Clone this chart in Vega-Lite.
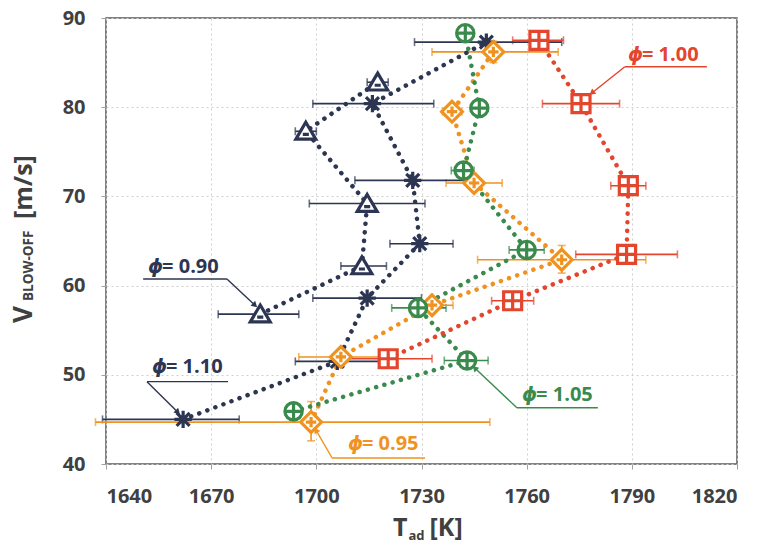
{
  "$schema": "https://vega.github.io/schema/vega-lite/v6.json",
  "width": 631,
  "height": 446,
  "autosize": {"type": "none"},
  "padding": {"left": 106, "top": 18, "right": 25, "bottom": 86},
  "background": "white",
  "datasets": {
    "pts": [
      {"phi": "0.90", "t": 1684, "v": 56.8, "lo": 1672, "hi": 1695},
      {"phi": "0.90", "t": 1713, "v": 62.2, "lo": 1707, "hi": 1720},
      {"phi": "0.90", "t": 1714.5, "v": 69.2, "lo": 1698, "hi": 1731},
      {"phi": "0.90", "t": 1697, "v": 77.3, "lo": 1694, "hi": 1700},
      {"phi": "0.90", "t": 1717.5, "v": 82.8, "lo": 1714.5, "hi": 1720.5},
      {"phi": "1.10", "t": 1662, "v": 45.0, "lo": 1639, "hi": 1678},
      {"phi": "1.10", "t": 1706, "v": 51.5, "lo": 1694, "hi": 1718},
      {"phi": "1.10", "t": 1714.5, "v": 58.6, "lo": 1699, "hi": 1730},
      {"phi": "1.10", "t": 1729.5, "v": 64.7, "lo": 1721, "hi": 1739},
      {"phi": "1.10", "t": 1727.5, "v": 71.8, "lo": 1711, "hi": 1745},
      {"phi": "1.10", "t": 1716, "v": 80.4, "lo": 1699, "hi": 1733.5},
      {"phi": "1.10", "t": 1748.5, "v": 87.3, "lo": 1728, "hi": 1770},
      {"phi": "0.95", "t": 1698.5, "v": 44.7, "lo": 1637, "hi": 1749.5, "vlo": 42.6, "vhi": 47.0},
      {"phi": "0.95", "t": 1707, "v": 52.0, "lo": 1695, "hi": 1718},
      {"phi": "0.95", "t": 1733, "v": 57.8, "lo": 1727, "hi": 1739},
      {"phi": "0.95", "t": 1770, "v": 62.9, "lo": 1746, "hi": 1794, "vlo": 61.4, "vhi": 64.5},
      {"phi": "0.95", "t": 1745, "v": 71.5, "lo": 1737, "hi": 1753},
      {"phi": "0.95", "t": 1738.7, "v": 79.5, "lo": 1736, "hi": 1741.5},
      {"phi": "0.95", "t": 1750.5, "v": 86.2, "lo": 1733, "hi": 1769, "vlo": 85.0, "vhi": 87.4},
      {"phi": "1.05", "t": 1693.5, "v": 45.9, "lo": 1691, "hi": 1696},
      {"phi": "1.05", "t": 1743, "v": 51.6, "lo": 1736.5, "hi": 1749},
      {"phi": "1.05", "t": 1729, "v": 57.5, "lo": 1721.5, "hi": 1737},
      {"phi": "1.05", "t": 1760, "v": 64.0, "lo": 1755, "hi": 1765},
      {"phi": "1.05", "t": 1742, "v": 72.9, "lo": 1738.5, "hi": 1745},
      {"phi": "1.05", "t": 1746.5, "v": 79.9, "lo": 1744, "hi": 1749},
      {"phi": "1.05", "t": 1742.5, "v": 88.3, "lo": 1740, "hi": 1745},
      {"phi": "1.00", "t": 1720.5, "v": 51.8, "lo": 1708.5, "hi": 1733},
      {"phi": "1.00", "t": 1756, "v": 58.3, "lo": 1750, "hi": 1762},
      {"phi": "1.00", "t": 1788.5, "v": 63.5, "lo": 1774, "hi": 1803},
      {"phi": "1.00", "t": 1789, "v": 71.2, "lo": 1784, "hi": 1794},
      {"phi": "1.00", "t": 1775.5, "v": 80.4, "lo": 1764.5, "hi": 1786.5},
      {"phi": "1.00", "t": 1763.5, "v": 87.5, "lo": 1756, "hi": 1770.5}
    ],
    "leaders": [
      {"phi": "0.90", "t": 1650.6, "v": 60.74, "t2": 1674.5, "v2": 60.74},
      {"phi": "0.90", "t": 1674.5, "v": 60.74, "t2": 1682.5, "v2": 57.8},
      {"phi": "1.10", "t": 1651.7, "v": 49.23, "t2": 1674.8, "v2": 49.23},
      {"phi": "1.10", "t": 1651.7, "v": 49.23, "t2": 1660.5, "v2": 45.8},
      {"phi": "0.95", "t": 1704.5, "v": 40.67, "t2": 1731, "v2": 40.67},
      {"phi": "0.95", "t": 1704.5, "v": 40.67, "t2": 1699.9, "v2": 43.8},
      {"phi": "1.05", "t": 1757.2, "v": 46.31, "t2": 1780.3, "v2": 46.31},
      {"phi": "1.05", "t": 1757.2, "v": 46.31, "t2": 1745.2, "v2": 50.76},
      {"phi": "1.00", "t": 1788, "v": 84.54, "t2": 1811.4, "v2": 84.54},
      {"phi": "1.00", "t": 1788, "v": 84.54, "t2": 1778.6, "v2": 81.6}
    ],
    "arrows": [
      {"phi": "0.90", "t": 1682.5, "v": 57.8, "dir": 133},
      {"phi": "1.10", "t": 1660.5, "v": 45.8, "dir": 135},
      {"phi": "0.95", "t": 1699.9, "v": 43.8, "dir": 330},
      {"phi": "1.05", "t": 1745.2, "v": 50.76, "dir": 314},
      {"phi": "1.00", "t": 1778.6, "v": 81.6, "dir": 232}
    ],
    "labels": [
      {"phi": "0.90", "t": 1652, "v": 61.4, "label": "= 0.90"},
      {"phi": "1.10", "t": 1653.1, "v": 50.2, "label": "= 1.10"},
      {"phi": "0.95", "t": 1709, "v": 41.57, "label": "= 0.95"},
      {"phi": "1.05", "t": 1758.7, "v": 47.06, "label": "= 1.05"},
      {"phi": "1.00", "t": 1788.9, "v": 85.18, "label": "= 1.00"}
    ],
    "one": [{}]
  },
  "layer": [
    {
      "data": {"name": "pts"},
      "mark": {"type": "errorbar", "ticks": true, "thickness": 1.6, "size": 8},
      "encoding": {
        "x": {"field": "lo", "type": "quantitative", "title": null,
              "scale": {"domain": [1640, 1820], "nice": false, "zero": false},
              "axis": {"values": [1640, 1670, 1700, 1730, 1760, 1790, 1820], "format": "d"}},
        "x2": {"field": "hi"},
        "y": {"field": "v", "type": "quantitative", "title": null,
              "scale": {"domain": [40, 90], "nice": false, "zero": false},
              "axis": {"values": [40, 50, 60, 70, 80, 90], "format": "d"}},
        "color": {"field": "phi", "type": "nominal", "legend": null,
                  "scale": {"domain": ["0.90", "0.95", "1.00", "1.05", "1.10"],
                            "range": ["#2c3552", "#f0921f", "#e3452d", "#3b8a4d", "#2c3552"]}}
      }
    },
    {
      "data": {"name": "pts"},
      "transform": [{"filter": "isValid(datum.vlo)"}],
      "mark": {"type": "errorbar", "ticks": true, "thickness": 1.6, "size": 8},
      "encoding": {
        "x": {"field": "t", "type": "quantitative", "title": null},
        "y": {"field": "vlo", "type": "quantitative", "title": null},
        "y2": {"field": "vhi"},
        "color": {"field": "phi", "type": "nominal"}
      }
    },
    {
      "data": {"name": "pts"},
      "mark": {"type": "line", "strokeDash": [0.1, 8.5], "strokeCap": "round", "strokeWidth": 4.5},
      "encoding": {
        "x": {"field": "t", "type": "quantitative", "title": null},
        "y": {"field": "v", "type": "quantitative", "title": null},
        "order": {"field": "v", "type": "quantitative"},
        "color": {"field": "phi", "type": "nominal"}
      }
    },
    {
      "data": {"name": "pts"},
      "mark": {"type": "point", "filled": false, "fill": "white", "fillOpacity": 1, "strokeWidth": 3.2, "opacity": 1, "size": 300},
      "encoding": {
        "x": {"field": "t", "type": "quantitative", "title": null},
        "y": {"field": "v", "type": "quantitative", "title": null},
        "color": {"field": "phi", "type": "nominal"},
        "shape": {"field": "phi", "type": "nominal", "legend": null,
                  "scale": {"domain": ["0.90", "0.95", "1.00", "1.05", "1.10"],
                            "range": [
                              "M0,-1.05L1.15,0.9L-1.15,0.9ZM-0.35,0.35H0.35",
                              "M0,-1.2L1.2,0L0,1.2L-1.2,0ZM0,-0.6V0.6M-0.6,0H0.6",
                              "M-1.04,-1.04H1.04V1.04H-1.04ZM0,-1.04V1.04M-1.04,0H1.04",
                              "M-1,0A1,1,0,1,1,1,0A1,1,0,1,1,-1,0ZM0,-1V1M-1,0H1",
                              "M-1,0H1M0,-1V1M-0.75,-0.75L0.75,0.75M-0.75,0.75L0.75,-0.75"
                            ]}}
      }
    },
    {
      "data": {"name": "leaders"},
      "mark": {"type": "rule", "strokeWidth": 1.4},
      "encoding": {
        "x": {"field": "t", "type": "quantitative", "title": null},
        "y": {"field": "v", "type": "quantitative", "title": null},
        "x2": {"field": "t2"},
        "y2": {"field": "v2"},
        "color": {"field": "phi", "type": "nominal"}
      }
    },
    {
      "data": {"name": "arrows"},
      "mark": {"type": "point", "shape": "triangle-up", "filled": true, "size": 45, "opacity": 1},
      "encoding": {
        "x": {"field": "t", "type": "quantitative", "title": null},
        "y": {"field": "v", "type": "quantitative", "title": null},
        "angle": {"field": "dir", "type": "quantitative", "scale": null},
        "color": {"field": "phi", "type": "nominal"}
      }
    },
    {
      "data": {"name": "labels"},
      "mark": {"type": "text", "text": "ϕ", "align": "left", "baseline": "alphabetic", "font": "DejaVu Sans", "fontSize": 19, "fontStyle": "italic", "fontWeight": "bold"},
      "encoding": {
        "x": {"field": "t", "type": "quantitative", "title": null},
        "y": {"field": "v", "type": "quantitative", "title": null},
        "color": {"field": "phi", "type": "nominal"}
      }
    },
    {
      "data": {"name": "labels"},
      "mark": {"type": "text", "align": "left", "baseline": "alphabetic", "dx": 14, "font": "Open Sans", "fontSize": 20, "fontWeight": "bold"},
      "encoding": {
        "x": {"field": "t", "type": "quantitative", "title": null},
        "y": {"field": "v", "type": "quantitative", "title": null},
        "text": {"field": "label"},
        "color": {"field": "phi", "type": "nominal"}
      }
    },
    {
      "data": {"name": "one"},
      "mark": {"type": "text", "text": "T", "align": "right", "baseline": "alphabetic", "dx": -14, "dy": 72, "font": "Open Sans", "fontSize": 25, "fontWeight": "bold", "color": "#404040", "clip": false},
      "encoding": {"x": {"datum": 1730}, "y": {"datum": 40}}
    },
    {
      "data": {"name": "one"},
      "mark": {"type": "text", "text": "ad", "align": "left", "baseline": "alphabetic", "dx": -13, "dy": 76, "font": "Open Sans", "fontSize": 13, "fontWeight": "bold", "color": "#404040", "clip": false},
      "encoding": {"x": {"datum": 1730}, "y": {"datum": 40}}
    },
    {
      "data": {"name": "one"},
      "mark": {"type": "text", "text": "[K]", "align": "left", "baseline": "alphabetic", "dx": 8, "dy": 72, "font": "Open Sans", "fontSize": 25, "fontWeight": "bold", "color": "#404040", "clip": false},
      "encoding": {"x": {"datum": 1730}, "y": {"datum": 40}}
    },
    {
      "data": {"name": "one"},
      "mark": {"type": "text", "text": "V", "angle": 270, "align": "left", "baseline": "alphabetic", "dx": -82, "dy": -74, "font": "Open Sans", "fontSize": 26, "fontWeight": "bold", "color": "#404040", "clip": false},
      "encoding": {"x": {"datum": 1640}, "y": {"datum": 65}}
    },
    {
      "data": {"name": "one"},
      "mark": {"type": "text", "text": "BLOW-OFF", "angle": 270, "align": "left", "baseline": "alphabetic", "dx": -60, "dy": -73, "font": "Open Sans", "fontSize": 13.5, "fontWeight": "bold", "color": "#404040", "clip": false},
      "encoding": {"x": {"datum": 1640}, "y": {"datum": 65}}
    },
    {
      "data": {"name": "one"},
      "mark": {"type": "text", "text": "[m/s]", "angle": 270, "align": "left", "baseline": "alphabetic", "dx": 22, "dy": -74, "font": "Open Sans", "fontSize": 25, "fontWeight": "bold", "color": "#404040", "clip": false},
      "encoding": {"x": {"datum": 1640}, "y": {"datum": 65}}
    }
  ],
  "config": {
    "font": "Open Sans",
    "view": {"stroke": "#595959", "strokeWidth": 1.5},
    "axis": {
      "domain": false,
      "grid": true,
      "gridColor": "#cfcfcf",
      "gridDash": [2, 3],
      "gridWidth": 1,
      "ticks": true,
      "tickSize": 5,
      "tickColor": "#a0a0a0",
      "labelFont": "Open Sans",
      "labelFontSize": 20,
      "labelFontWeight": "bold",
      "labelColor": "#404040"
    },
    "axisX": {"labelPadding": 17},
    "axisY": {"labelPadding": 16}
  }
}
